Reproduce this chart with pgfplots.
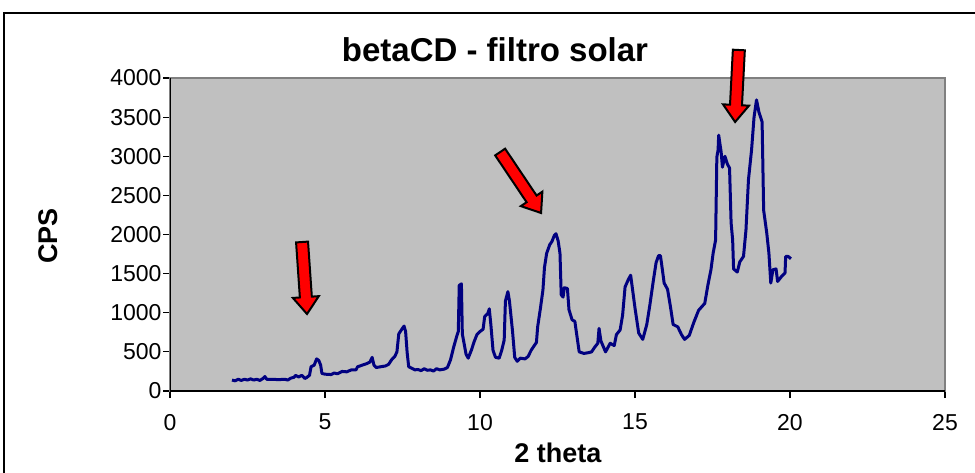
\documentclass[border=0pt]{standalone}
\usepackage{pgfplots}
\pgfplotsset{compat=1.18}
\usepackage{fontspec}
\setmainfont{Liberation Sans}
\usetikzlibrary{calc}

\definecolor{plotgray}{HTML}{C0C0C0}
\definecolor{framegray}{HTML}{808080}
\definecolor{tracenavy}{HTML}{000080}

% block arrow from #1 (tail) to #2 (tip)
\newcommand{\fatarrow}[2]{%
  \coordinate (hb) at ($(#2)!8.5pt!(#1)$);
  \filldraw[fill=red, draw=black, line width=1pt, line join=miter]
    ($(#1)!3pt!90:(#2)$) -- ($(hb)!3pt!-90:(#1)$) -- ($(hb)!6.5pt!-90:(#1)$)
    -- (#2) -- ($(hb)!6.5pt!90:(#1)$) -- ($(hb)!3pt!90:(#1)$)
    -- ($(#1)!3pt!-90:(#2)$) -- cycle;
}

\begin{document}
\begin{tikzpicture}
\begin{axis}[
  scale only axis, width=387.5pt, height=156.5pt,
  at={(85pt,40.5pt)}, anchor=south west,
  xmin=0, xmax=25, ymin=0, ymax=4000,
  xtick={0,5,...,25}, ytick={0,500,...,4000},
  axis background/.style={fill=plotgray},
  axis line style={framegray, line width=0.75pt},
  tick align=outside, tick pos=left, major tick length=3.5pt,
  tick style={black, line width=0.6pt},
  /pgf/number format/1000 sep={},
  /pgf/number format/assume math mode=true,
  ticklabel style={font=\fontsize{11.5}{13}\selectfont},
  xticklabel style={yshift=-4.5pt},
  yticklabel style={xshift=2.8pt},
]
\addplot[tracenavy, line width=1.5pt, line join=round] coordinates {
(2.00,140) (2.10,130) (2.20,150) (2.30,135) (2.40,150) (2.50,140) (2.60,155)
(2.70,140) (2.80,150) (2.90,135) (3.00,160) (3.06,185) (3.12,150) (3.30,150)
(3.50,145) (3.70,150) (3.80,140) (3.90,165) (4.00,175) (4.05,200) (4.15,180)
(4.25,200) (4.35,160) (4.40,170) (4.50,200) (4.55,310) (4.65,330) (4.73,410)
(4.80,390) (4.86,330) (4.90,225) (5.00,215) (5.20,210) (5.30,230) (5.40,220)
(5.55,250) (5.70,245) (5.85,270) (6.00,270) (6.05,310) (6.20,330) (6.35,350)
(6.45,370) (6.52,430) (6.58,330) (6.65,300) (6.80,310) (6.95,320) (7.05,340)
(7.15,400) (7.25,440) (7.32,500) (7.38,730) (7.48,790) (7.55,830) (7.60,760)
(7.65,490) (7.70,310) (7.80,290) (7.90,270) (8.00,275) (8.10,260) (8.20,285)
(8.30,265) (8.40,270) (8.50,255) (8.60,285) (8.70,270) (8.85,280) (8.95,300)
(9.05,400) (9.15,560) (9.25,700) (9.30,760) (9.33,1350) (9.40,1370) (9.43,730)
(9.55,470) (9.62,420) (9.72,520) (9.82,640) (9.90,720) (10.00,760) (10.10,790)
(10.15,950) (10.25,990) (10.30,1050) (10.35,850) (10.42,520) (10.50,430)
(10.62,420) (10.70,520) (10.78,650) (10.82,1150) (10.90,1270) (10.95,1150)
(11.05,760) (11.12,430) (11.20,380) (11.30,420) (11.45,410) (11.55,440)
(11.65,520) (11.75,580) (11.82,620) (11.86,820) (11.95,1060) (12.03,1290)
(12.08,1580) (12.15,1760) (12.25,1870) (12.32,1910) (12.40,1990) (12.45,2010)
(12.52,1920) (12.58,1760) (12.62,1230) (12.68,1200) (12.72,1320) (12.82,1310)
(12.87,1040) (12.97,910) (13.06,890) (13.12,720) (13.20,500) (13.35,480)
(13.50,490) (13.60,500) (13.70,560) (13.80,610) (13.84,800) (13.90,640)
(14.05,500) (14.20,610) (14.33,580) (14.40,720) (14.52,780) (14.60,970)
(14.68,1330) (14.78,1420) (14.86,1480) (14.92,1300) (15.00,1060) (15.12,740)
(15.25,660) (15.38,850) (15.48,1100) (15.58,1380) (15.68,1640) (15.76,1730)
(15.82,1730) (15.88,1560) (15.94,1380) (16.05,1300) (16.15,1060) (16.23,850)
(16.38,820) (16.50,720) (16.60,660) (16.75,710) (16.90,880) (17.05,1030)
(17.25,1120) (17.35,1350) (17.45,1550) (17.52,1760) (17.60,1930) (17.64,2990)
(17.68,3080) (17.70,3270) (17.78,3050) (17.82,2860) (17.90,3000) (17.98,2900)
(18.05,2850) (18.10,2150) (18.15,1930) (18.18,1560) (18.30,1520) (18.38,1650)
(18.50,1720) (18.58,2060) (18.66,2700) (18.76,3080) (18.84,3500) (18.92,3720)
(19.00,3560) (19.10,3440) (19.15,2310) (19.25,2020) (19.32,1760) (19.38,1380)
(19.45,1550) (19.55,1560) (19.60,1400) (19.72,1460) (19.84,1510) (19.86,1720)
(19.94,1720) (20.03,1690)
};
% dark axis lines over the grey frame
\draw[black, line width=0.75pt] (rel axis cs:0,0) -- (rel axis cs:1,0);
\draw[black, line width=0.75pt] (rel axis cs:0,0) -- (rel axis cs:0,1);
% arrow anchors
\coordinate (a1s) at (axis cs:4.26,1904);
\coordinate (a1t) at (axis cs:4.42,984);
\coordinate (a2s) at (axis cs:10.65,3054);
\coordinate (a2t) at (axis cs:11.97,2275);
\coordinate (a3s) at (axis cs:18.35,4358);
\coordinate (a3t) at (axis cs:18.23,3438);
\end{axis}

\fatarrow{a1s}{a1t}
\fatarrow{a2s}{a2t}
\fatarrow{a3s}{a3t}

\node[font=\bfseries\fontsize{16.5}{19}\selectfont] at (247.5pt,211pt) {betaCD - filtro solar};
\node[font=\bfseries\fontsize{13.5}{16}\selectfont] at (279pt,9.5pt) {2 theta};
\node[font=\bfseries\fontsize{13.5}{16}\selectfont, rotate=90] at (24pt,118pt) {CPS};

% chart border
\begin{scope}
  \clip (0,0) rectangle (487.5pt,236pt);
  \draw[black, line width=1pt] (2pt,-10pt) rectangle (500pt,229.5pt);
\end{scope}

\pgfresetboundingbox
\useasboundingbox (0,0) rectangle (487.5pt,236pt);
\end{tikzpicture}
\end{document}
